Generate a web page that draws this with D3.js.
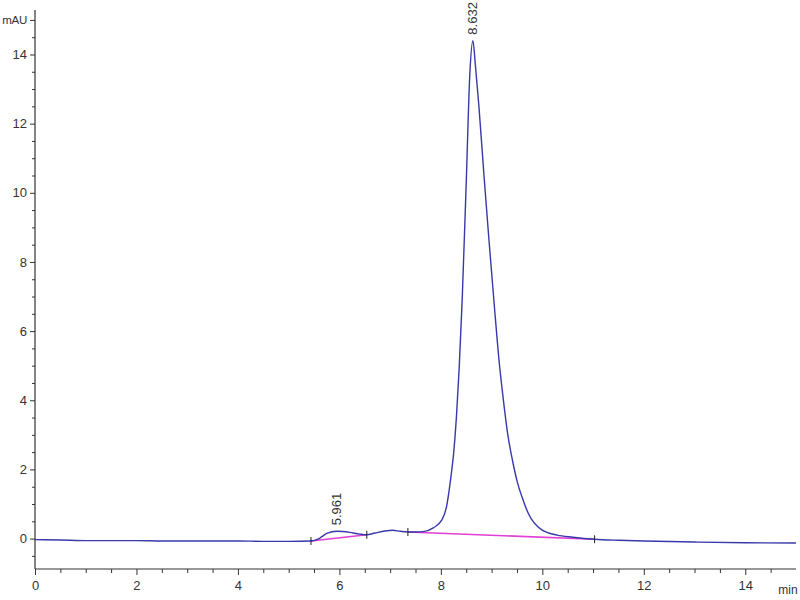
<!DOCTYPE html>
<html>
<head>
<meta charset="utf-8">
<script src="https://cdn.jsdelivr.net/npm/d3@7"></script>
<style>
  body { margin: 0; background: #fff; }
  svg text { font-family: "Liberation Sans", Arial, sans-serif; fill: #333; }
</style>
</head>
<body>
<div id="chart"></div>
<script>
// signal: [time (min), absorbance (mAU)]
var signal = [
  [0.0, -0.03], [0.5, -0.04], [1.0, -0.06], [1.5, -0.06], [2.0, -0.06],
  [2.5, -0.07], [3.0, -0.07], [3.5, -0.07], [4.0, -0.07], [4.5, -0.08],
  [5.0, -0.08], [5.44, -0.07], [5.6, 0.0], [5.75, 0.15], [5.96, 0.21],
  [6.2, 0.18], [6.4, 0.13], [6.54, 0.11], [6.7, 0.16], [6.9, 0.22],
  [7.05, 0.24], [7.2, 0.21], [7.35, 0.19], [7.5, 0.19], [7.65, 0.2],
  [7.85, 0.31], [8.02, 0.54], [8.11, 0.91], [8.19, 1.69], [8.26, 2.6],
  [8.31, 3.6], [8.36, 4.9], [8.42, 6.9], [8.5, 10.3], [8.57, 13.4],
  [8.632, 14.4], [8.68, 13.7], [8.75, 12.5], [8.85, 10.5], [8.95, 8.6],
  [9.05, 6.8], [9.15, 5.1], [9.225, 4.1], [9.32, 3.0], [9.42, 2.2],
  [9.51, 1.62], [9.6, 1.2], [9.72, 0.74], [9.99, 0.25], [10.29, 0.1],
  [10.6, 0.04], [11.03, -0.02], [11.5, -0.05], [12.0, -0.07], [13.0, -0.1],
  [14.0, -0.12], [15.0, -0.13]
];

// integration baselines
var baselines = [
  [[5.44, -0.07], [6.54, 0.11]],
  [[7.35, 0.19], [11.03, -0.02]]
];

// labelled peaks
var peakTimes = [5.961, 8.632];
var peakHeights = [0.21, 14.4];
var peakLabels = ["5.961", "8.632"];

var xMajor = [0, 2, 4, 6, 8, 10, 12, 14];
var yMajor = [0, 2, 4, 6, 8, 10, 12, 14];
var yUnitTick = 15;

var width = 800, height = 600;
var svg = d3.select("#chart").append("svg")
  .attr("width", width)
  .attr("height", height);

var x = d3.scaleLinear().domain([0, 15]).range([35, 796]);
var y = d3.scaleLinear().domain([-0.88, 15.2]).range([569, 13]);

var xMinor = d3.range(0, 14.51, 0.5).filter(function(v){ return v % 2 !== 0; });
var yMinor = d3.range(-0.5, 15.01, 0.5).filter(function(v){ return v % 2 !== 0 && v !== yUnitTick; });

// x axis
var gx = svg.append("g").attr("transform", "translate(0," + y.range()[0] + ")");
gx.append("line")
  .attr("x1", x(0)).attr("x2", x(15)).attr("y1", 0).attr("y2", 0)
  .attr("stroke", "#333").attr("stroke-width", 1.2);
gx.append("g").call(d3.axisBottom(x).tickValues(xMajor).tickSize(6).tickPadding(6).tickFormat(d3.format("d")))
  .call(function(g){ g.select(".domain").remove(); })
  .call(function(g){
    g.selectAll("line").attr("stroke", "#333");
    g.selectAll("text").attr("font-size", 13).attr("fill", "#333");
  });
gx.append("g").call(d3.axisBottom(x).tickValues(xMinor).tickSize(4).tickFormat(""))
  .call(function(g){ g.select(".domain").remove(); g.selectAll("line").attr("stroke", "#333"); });
gx.append("text")
  .attr("x", 788).attr("y", 25)
  .attr("text-anchor", "middle")
  .attr("font-size", 12)
  .text("min");

// y axis
var gy = svg.append("g").attr("transform", "translate(" + x.range()[0] + ",0)");
gy.append("line")
  .attr("x1", 0).attr("x2", 0).attr("y1", y.range()[0]).attr("y2", 10)
  .attr("stroke", "#333").attr("stroke-width", 1.2);
gy.append("g").call(d3.axisLeft(y).tickValues(yMajor.concat([yUnitTick])).tickSize(5).tickPadding(3)
    .tickFormat(function(d){ return d === yUnitTick ? "mAU" : d; }))
  .call(function(g){ g.select(".domain").remove(); })
  .call(function(g){
    g.selectAll("line").attr("stroke", "#333");
    g.selectAll("text").attr("font-size", 13).attr("fill", "#333");
    g.selectAll("text").filter(function(d){ return d === yUnitTick; })
      .attr("font-size", 11.5).attr("letter-spacing", -0.3);
  });
gy.append("g").call(d3.axisLeft(y).tickValues(yMinor).tickSize(3).tickFormat(""))
  .call(function(g){ g.select(".domain").remove(); g.selectAll("line").attr("stroke", "#333"); });

// baselines
var line = d3.line()
  .x(function(d){ return x(d[0]); })
  .y(function(d){ return y(d[1]); });

svg.append("g").selectAll("path").data(baselines).enter().append("path")
  .attr("d", line)
  .attr("fill", "none")
  .attr("stroke", "#e23fd6")
  .attr("stroke-width", 1.6);

// signal
svg.append("path")
  .datum(signal)
  .attr("d", line.curve(d3.curveMonotoneX))
  .attr("fill", "none")
  .attr("stroke", "#3838aa")
  .attr("stroke-width", 1.4);

// integration start/end marks
var marks = [];
baselines.forEach(function(b){ marks.push(b[0]); marks.push(b[1]); });
svg.append("g").selectAll("line").data(marks).enter().append("line")
  .attr("x1", function(d){ return x(d[0]); })
  .attr("x2", function(d){ return x(d[0]); })
  .attr("y1", function(d){ return y(d[1]) - 4; })
  .attr("y2", function(d){ return y(d[1]) + 4; })
  .attr("stroke", "#222")
  .attr("stroke-width", 1);

// peak labels
svg.append("g").selectAll("text").data(peakTimes).enter().append("text")
  .attr("transform", function(d, i){
    return "translate(" + (x(d) + 4) + "," + (y(peakHeights[i]) - 6) + ") rotate(-90)";
  })
  .attr("text-anchor", "start")
  .attr("font-size", 13)
  .text(function(d, i){ return peakLabels[i]; });
</script>
</body>
</html>
